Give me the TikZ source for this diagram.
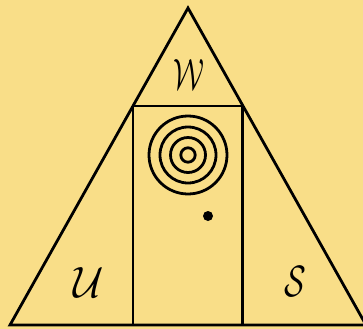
\documentclass[tikz,border=0pt]{standalone}
\usepackage{graphicx}
\definecolor{bg}{RGB}{249,222,136}
\tikzset{
  edge/.style={line width=2.8pt, line join=miter},
  ring/.style={line width=2.8pt},
  lbl/.style={inner sep=0pt}
}
\begin{document}
\begin{tikzpicture}[x=1bp,y=-1bp]
  \useasboundingbox[fill=bg] (0,0) rectangle (363,329);
  \begin{scope}
    \clip (0,0) rectangle (363,329);
    \coordinate (A) at (188,8);
    \coordinate (L) at (10,325);
    \coordinate (R) at (366,325);
    \draw[edge] (L) -- (A) -- (R) -- cycle;
    \draw[edge, line width=2.4pt] (133,325) -- (133,106) -- (242.5,106) -- (242.5,325);
  \end{scope}
  \coordinate (C) at (188,155);
  \foreach \r in {39,28,17.5,7.2} \draw[ring] (C) circle[radius=\r];
  \fill (208,216) circle[radius=5];
  \node[lbl] (w) at (189,75) {\scalebox{2.9}[4.4]{$\mathcal{W}$}};
  \node[lbl] (u) at (89,283) {\scalebox{4.2}[4.4]{$\mathcal{U}$}};
  \node[lbl] (s) at (295,282) {\scalebox{3.2}[4.4]{$\mathcal{S}$}};
\end{tikzpicture}
\end{document}
